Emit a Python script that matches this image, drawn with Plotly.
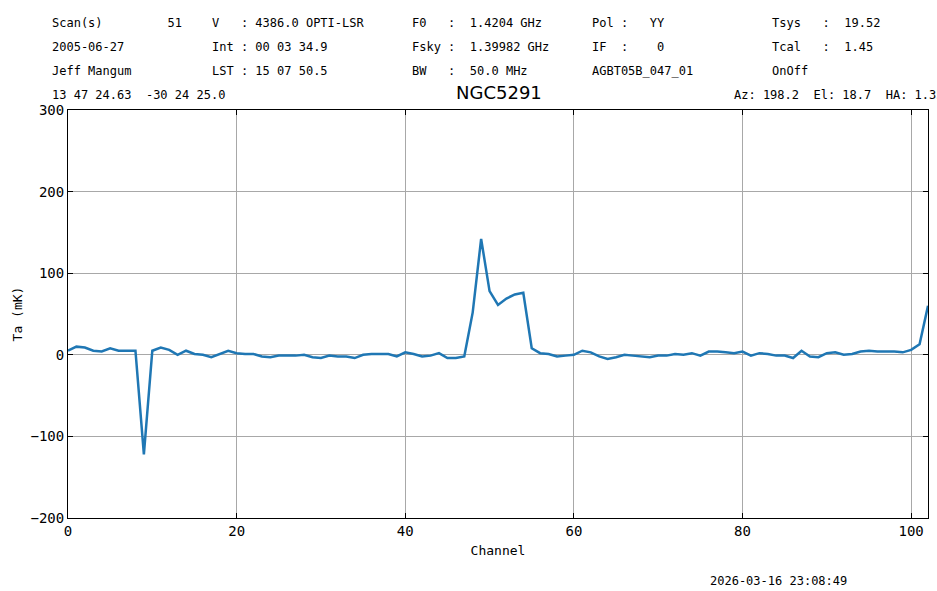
import plotly.graph_objects as go

channels = list(range(103))
ta = [5,10,9,5,4,8,5,5,5,-122,5,9,6,0,5,1,0,-3,1,5,2,1,1,-2,-3,-1,-1,-1,0,-3,-4,-1,-2,-2,-4,0,1,1,1,-2,
      3,1,-2,-1,2,-4,-4,-2,52,142,78,61,69,74,76,8,2,1,-2,-1,0,5,3,-2,-5,-3,0,-1,-2,-3,
      -1,-1,1,0,2,-1,4,4,3,2,4,-1,2,1,-1,-1,-4,5,-2,-3,2,3,0,1,4,5,4,4,4,3,6,13,60]

header = [
    (50,23,"Scan(s)         51"),(210,23,"V   : 4386.0 OPTI-LSR"),(410,23,"F0   :  1.4204 GHz"),(590,23,"Pol :   YY"),(770,23,"Tsys   :  19.52"),
    (50,47,"2005-06-27"),(210,47,"Int : 00 03 34.9"),(410,47,"Fsky :  1.39982 GHz"),(590,47,"IF  :    0"),(770,47,"Tcal   :  1.45"),
    (50,71,"Jeff Mangum"),(210,71,"LST : 15 07 50.5"),(410,71,"BW   :  50.0 MHz"),(590,71,"AGBT05B_047_01"),(770,71,"OnOff"),
    (50,95,"13 47 24.63  -30 24 25.0"),(732,95,"Az: 198.2  El: 18.7  HA: 1.35"),
    (708,581,"2026-03-16 23:08:49"),
]

W, H = 937, 591
L, R, T, B = 68, 928, 110, 518
fig = go.Figure(go.Scatter(x=channels, y=ta, mode="lines", line=dict(color="#1f77b4", width=2.5)))
for x, y, t in header:
    fig.add_annotation(x=(x-L)/(R-L), y=(B-y)/(B-T), xref="paper", yref="paper", text=t.replace(" ", "&nbsp;"),
                       showarrow=False, xanchor="left", yanchor="middle",
                       font=dict(family="DejaVu Sans Mono", size=12, color="black"))
fig.add_annotation(x=(499-L)/(R-L), y=(B-93)/(B-T), xref="paper", yref="paper", text="NGC5291", showarrow=False,
                   xanchor="center", yanchor="middle", font=dict(family="DejaVu Sans", size=18, color="black"))
fig.update_layout(
    width=W, height=H, margin=dict(l=L, r=W-R, t=T, b=H-B, autoexpand=False),
    paper_bgcolor="white", plot_bgcolor="white", showlegend=False,
    font=dict(family="DejaVu Sans Mono", size=14, color="black"),
)
ax = dict(showline=True, linecolor="black", linewidth=1, mirror="allticks", ticks="inside", ticklen=5,
          tickcolor="black", showgrid=True, gridcolor="#a8a8a8", gridwidth=1, zeroline=False)
fig.update_xaxes(range=[0,102], tickvals=[0,20,40,60,80,100], title=dict(text="Channel", standoff=8, font=dict(size=13)), **ax)
fig.update_yaxes(range=[-200,300], tickvals=[-200,-100,0,100,200,300], ticktext=["−200","−100","0","100","200","300"],
                 title=dict(text="Ta (mK)", standoff=4, font=dict(size=13)), **ax)
fig.write_html("out.html", config={"displayModeBar": False},
               post_script="document.body.style.margin='0';document.body.style.overflow='hidden';")
